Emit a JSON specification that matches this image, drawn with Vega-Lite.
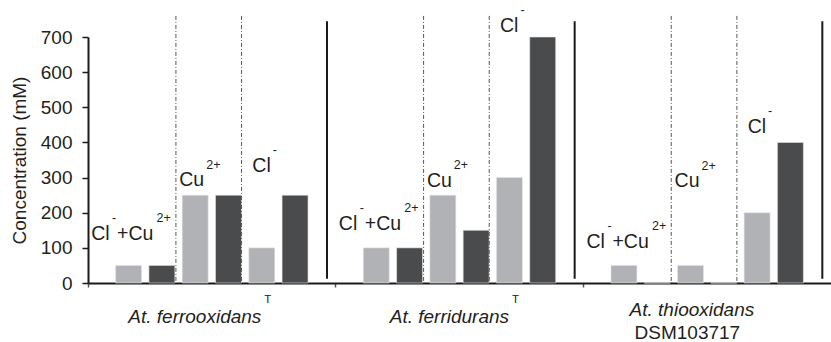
{
  "$schema": "https://vega.github.io/schema/vega-lite/v6.json",
  "autosize": {"type": "none"},
  "width": 743,
  "height": 246,
  "padding": {"left": 88, "top": 37, "right": 0, "bottom": 59},
  "background": "white",
  "config": {
    "view": {"stroke": null},
    "font": "Liberation Sans",
    "axisY": {
      "titleFont": "Liberation Sans",
      "titleFontSize": 19,
      "titleFontWeight": "normal",
      "titleColor": "#231f20",
      "titlePadding": 11,
      "labelFont": "Liberation Sans",
      "labelFontSize": 19,
      "labelColor": "#231f20",
      "labelPadding": 10,
      "labelOverlap": false,
      "tickSize": 6,
      "tickColor": "#1a1a1a",
      "tickWidth": 1.5,
      "domainColor": "#1a1a1a",
      "domainWidth": 2,
      "grid": false
    }
  },
  "datasets": {
    "bars": [
      {"species": "At. ferrooxidans", "condition": "ClCu", "series": "1", "value": 50},
      {"species": "At. ferrooxidans", "condition": "ClCu", "series": "2", "value": 50},
      {"species": "At. ferrooxidans", "condition": "Cu", "series": "1", "value": 250},
      {"species": "At. ferrooxidans", "condition": "Cu", "series": "2", "value": 250},
      {"species": "At. ferrooxidans", "condition": "Cl", "series": "1", "value": 100},
      {"species": "At. ferrooxidans", "condition": "Cl", "series": "2", "value": 250},
      {"species": "At. ferridurans", "condition": "ClCu", "series": "1", "value": 100},
      {"species": "At. ferridurans", "condition": "ClCu", "series": "2", "value": 100},
      {"species": "At. ferridurans", "condition": "Cu", "series": "1", "value": 250},
      {"species": "At. ferridurans", "condition": "Cu", "series": "2", "value": 150},
      {"species": "At. ferridurans", "condition": "Cl", "series": "1", "value": 300},
      {"species": "At. ferridurans", "condition": "Cl", "series": "2", "value": 700},
      {"species": "At. thiooxidans", "condition": "ClCu", "series": "1", "value": 50},
      {"species": "At. thiooxidans", "condition": "ClCu", "series": "2", "value": 0},
      {"species": "At. thiooxidans", "condition": "Cu", "series": "1", "value": 50},
      {"species": "At. thiooxidans", "condition": "Cu", "series": "2", "value": 0},
      {"species": "At. thiooxidans", "condition": "Cl", "series": "1", "value": 200},
      {"species": "At. thiooxidans", "condition": "Cl", "series": "2", "value": 400}
    ],
    "labels": [
      {"species": "At. ferrooxidans", "condition": "ClCu", "series": "1", "base": "Cl", "sup": "-", "base2": "+Cu", "sup2": "2+", "at": 122},
      {"species": "At. ferrooxidans", "condition": "Cu", "series": "1", "base": "Cu", "sup": "2+", "base2": "", "sup2": "", "at": 276},
      {"species": "At. ferrooxidans", "condition": "Cl", "series": "1", "base": "Cl", "sup": "-", "base2": "", "sup2": "", "at": 317},
      {"species": "At. ferridurans", "condition": "ClCu", "series": "1", "base": "Cl", "sup": "-", "base2": "+Cu", "sup2": "2+", "at": 151},
      {"species": "At. ferridurans", "condition": "Cu", "series": "1", "base": "Cu", "sup": "2+", "base2": "", "sup2": "", "at": 274},
      {"species": "At. ferridurans", "condition": "Cl", "series": "1", "base": "Cl", "sup": "-", "base2": "", "sup2": "", "at": 715},
      {"species": "At. thiooxidans", "condition": "ClCu", "series": "1", "base": "Cl", "sup": "-", "base2": "+Cu", "sup2": "2+", "at": 100},
      {"species": "At. thiooxidans", "condition": "Cu", "series": "1", "base": "Cu", "sup": "2+", "base2": "", "sup2": "", "at": 273},
      {"species": "At. thiooxidans", "condition": "Cl", "series": "1", "base": "Cl", "sup": "-", "base2": "", "sup2": "", "at": 427}
    ],
    "species": [
      {"species": "At. ferrooxidans", "name": "At. ferrooxidans", "sup": "T", "line2": ""},
      {"species": "At. ferridurans", "name": "At. ferridurans", "sup": "T", "line2": ""},
      {"species": "At. thiooxidans", "name": "At. thiooxidans", "sup": "", "line2": "DSM103717"}
    ]
  },
  "encoding": {
    "x": {
      "field": "species",
      "type": "nominal",
      "sort": ["At. ferrooxidans", "At. ferridurans", "At. thiooxidans"],
      "scale": {"paddingInner": 0, "paddingOuter": 0},
      "axis": {
        "title": null,
        "labels": false,
        "bandPosition": 0,
        "ticks": true,
        "tickSize": 4,
        "tickColor": "#555",
        "tickWidth": 1.5,
        "domainColor": "#1a1a1a",
        "domainWidth": 2,
        "grid": false
      }
    }
  },
  "layer": [
    {
      "data": {"name": "bars"},
      "transform": [{"calculate": "datum.condition + '|' + datum.series", "as": "key"}],
      "mark": {"type": "bar", "stroke": "#e6e6e6", "strokeWidth": 0.6},
      "encoding": {
        "xOffset": {
          "field": "key",
          "type": "nominal",
          "scale": {
            "domain": ["ClCu|1", "ClCu|2", "Cu|1", "Cu|2", "Cl|1", "Cl|2"],
            "paddingInner": 0.22,
            "paddingOuter": 0.83
          }
        },
        "y": {
          "field": "value",
          "type": "quantitative",
          "stack": null,
          "scale": {"domain": [0, 700], "nice": false},
          "axis": {"title": "Concentration (mM)", "values": [0, 100, 200, 300, 400, 500, 600, 700], "labelFontSize": 19, "labelOverlap": false}
        },
        "color": {
          "field": "series",
          "type": "nominal",
          "scale": {"domain": ["1", "2"], "range": ["#b1b2b5", "#4a4b4d"]},
          "legend": null
        }
      }
    },
    {
      "data": {"name": "species"},
      "mark": {"type": "rule", "color": "#555", "strokeWidth": 1, "strokeDash": [4, 2, 1, 2]},
      "encoding": {
        "x": {"field": "species", "type": "nominal", "bandPosition": 0.355},
        "y": {"datum": 760, "type": "quantitative", "axis": {"title": "Concentration (mM)", "values": [0, 100, 200, 300, 400, 500, 600, 700], "labelFontSize": 19, "labelOverlap": false}},
        "y2": {"datum": 0}
      }
    },
    {
      "data": {"name": "species"},
      "mark": {"type": "rule", "color": "#555", "strokeWidth": 1, "strokeDash": [4, 2, 1, 2]},
      "encoding": {
        "x": {"field": "species", "type": "nominal", "bandPosition": 0.62},
        "y": {"datum": 760, "type": "quantitative", "axis": {"title": "Concentration (mM)", "values": [0, 100, 200, 300, 400, 500, 600, 700], "labelFontSize": 19, "labelOverlap": false}},
        "y2": {"datum": 0}
      }
    },
    {
      "data": {"name": "species"},
      "mark": {"type": "rule", "color": "#1a1a1a", "strokeWidth": 2},
      "encoding": {
        "x": {"field": "species", "type": "nominal", "bandPosition": 0.965},
        "y": {"datum": 745, "type": "quantitative", "axis": {"title": "Concentration (mM)", "values": [0, 100, 200, 300, 400, 500, 600, 700], "labelFontSize": 19, "labelOverlap": false}},
        "y2": {"datum": 12}
      }
    },
    {
      "data": {"name": "labels"},
      "transform": [
        {"filter": "datum.condition === 'ClCu'"},
        {"calculate": "datum.condition + '|' + datum.series", "as": "key"}
      ],
      "mark": {"type": "text", "font": "Liberation Sans", "fontSize": 19.5, "color": "#231f20", "align": "right", "baseline": "alphabetic", "dx": -19},
      "encoding": {
        "xOffset": {"field": "key", "type": "nominal"},
        "y": {"field": "at", "type": "quantitative", "axis": {"title": "Concentration (mM)", "values": [0, 100, 200, 300, 400, 500, 600, 700], "labelFontSize": 19, "labelOverlap": false}},
        "text": {"field": "base"}
      }
    },
    {
      "data": {"name": "labels"},
      "transform": [
        {"filter": "datum.condition === 'ClCu'"},
        {"calculate": "datum.condition + '|' + datum.series", "as": "key"}
      ],
      "mark": {"type": "text", "font": "Liberation Sans", "fontSize": 12.5, "color": "#231f20", "align": "left", "baseline": "alphabetic", "dx": -16.5, "dy": -18},
      "encoding": {
        "xOffset": {"field": "key", "type": "nominal"},
        "y": {"field": "at", "type": "quantitative", "axis": {"title": "Concentration (mM)", "values": [0, 100, 200, 300, 400, 500, 600, 700], "labelFontSize": 19, "labelOverlap": false}},
        "text": {"field": "sup"}
      }
    },
    {
      "data": {"name": "labels"},
      "transform": [
        {"filter": "datum.condition === 'ClCu'"},
        {"calculate": "datum.condition + '|' + datum.series", "as": "key"}
      ],
      "mark": {"type": "text", "font": "Liberation Sans", "fontSize": 19.5, "color": "#231f20", "align": "left", "baseline": "alphabetic", "dx": -11.5},
      "encoding": {
        "xOffset": {"field": "key", "type": "nominal"},
        "y": {"field": "at", "type": "quantitative", "axis": {"title": "Concentration (mM)", "values": [0, 100, 200, 300, 400, 500, 600, 700], "labelFontSize": 19, "labelOverlap": false}},
        "text": {"field": "base2"}
      }
    },
    {
      "data": {"name": "labels"},
      "transform": [
        {"filter": "datum.condition === 'ClCu'"},
        {"calculate": "datum.condition + '|' + datum.series", "as": "key"}
      ],
      "mark": {"type": "text", "font": "Liberation Sans", "fontSize": 12.5, "color": "#231f20", "align": "left", "baseline": "alphabetic", "dx": 28, "dy": -18},
      "encoding": {
        "xOffset": {"field": "key", "type": "nominal"},
        "y": {"field": "at", "type": "quantitative", "axis": {"title": "Concentration (mM)", "values": [0, 100, 200, 300, 400, 500, 600, 700], "labelFontSize": 19, "labelOverlap": false}},
        "text": {"field": "sup2"}
      }
    },
    {
      "data": {"name": "labels"},
      "transform": [
        {"filter": "datum.condition !== 'ClCu'"},
        {"calculate": "datum.condition + '|' + datum.series", "as": "key"}
      ],
      "mark": {"type": "text", "font": "Liberation Sans", "fontSize": 19.5, "color": "#231f20", "align": "right", "baseline": "alphabetic", "dx": 9},
      "encoding": {
        "xOffset": {"field": "key", "type": "nominal"},
        "y": {"field": "at", "type": "quantitative", "axis": {"title": "Concentration (mM)", "values": [0, 100, 200, 300, 400, 500, 600, 700], "labelFontSize": 19, "labelOverlap": false}},
        "text": {"field": "base"}
      }
    },
    {
      "data": {"name": "labels"},
      "transform": [
        {"filter": "datum.condition !== 'ClCu'"},
        {"calculate": "datum.condition + '|' + datum.series", "as": "key"}
      ],
      "mark": {"type": "text", "font": "Liberation Sans", "fontSize": 12.5, "color": "#231f20", "align": "left", "baseline": "alphabetic", "dx": 11, "dy": -17.5},
      "encoding": {
        "xOffset": {"field": "key", "type": "nominal"},
        "y": {"field": "at", "type": "quantitative", "axis": {"title": "Concentration (mM)", "values": [0, 100, 200, 300, 400, 500, 600, 700], "labelFontSize": 19, "labelOverlap": false}},
        "text": {"field": "sup"}
      }
    },
    {
      "data": {"name": "species"},
      "transform": [{"filter": "datum.line2 === ''"}],
      "mark": {"type": "text", "font": "Liberation Sans", "fontSize": 19, "fontStyle": "italic", "color": "#231f20", "align": "right", "baseline": "alphabetic", "dy": 40},
      "encoding": {
        "x": {"field": "species", "type": "nominal", "bandPosition": 0.7},
        "y": {"datum": 0, "type": "quantitative", "axis": {"title": "Concentration (mM)", "values": [0, 100, 200, 300, 400, 500, 600, 700], "labelFontSize": 19, "labelOverlap": false}},
        "text": {"field": "name"}
      }
    },
    {
      "data": {"name": "species"},
      "transform": [{"filter": "datum.line2 !== ''"}],
      "mark": {"type": "text", "font": "Liberation Sans", "fontSize": 19, "fontStyle": "italic", "color": "#231f20", "align": "right", "baseline": "alphabetic", "dy": 33},
      "encoding": {
        "x": {"field": "species", "type": "nominal", "bandPosition": 0.69},
        "y": {"datum": 0, "type": "quantitative", "axis": {"title": "Concentration (mM)", "values": [0, 100, 200, 300, 400, 500, 600, 700], "labelFontSize": 19, "labelOverlap": false}},
        "text": {"field": "name"}
      }
    },
    {
      "data": {"name": "species"},
      "mark": {"type": "text", "font": "Liberation Sans", "fontSize": 11.5, "color": "#231f20", "align": "left", "baseline": "alphabetic", "dx": 3, "dy": 20},
      "encoding": {
        "x": {"field": "species", "type": "nominal", "bandPosition": 0.7},
        "y": {"datum": 0, "type": "quantitative", "axis": {"title": "Concentration (mM)", "values": [0, 100, 200, 300, 400, 500, 600, 700], "labelFontSize": 19, "labelOverlap": false}},
        "text": {"field": "sup"}
      }
    },
    {
      "data": {"name": "species"},
      "mark": {"type": "text", "font": "Liberation Sans", "fontSize": 19, "color": "#231f20", "align": "center", "baseline": "alphabetic", "dy": 56},
      "encoding": {
        "x": {"field": "species", "type": "nominal", "bandPosition": 0.42},
        "y": {"datum": 0, "type": "quantitative", "axis": {"title": "Concentration (mM)", "values": [0, 100, 200, 300, 400, 500, 600, 700], "labelFontSize": 19, "labelOverlap": false}},
        "text": {"field": "line2"}
      }
    }
  ]
}
